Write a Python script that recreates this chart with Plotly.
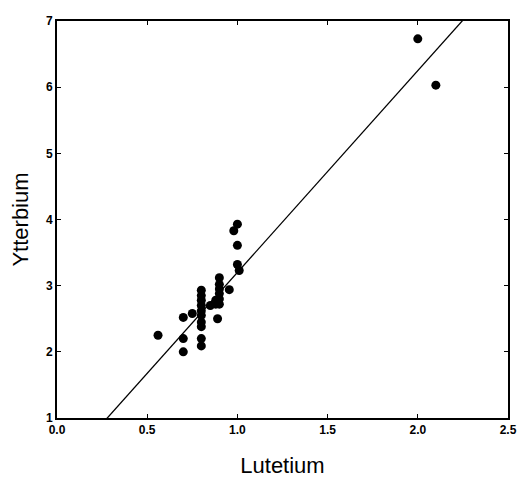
import plotly.graph_objects as go

lutetium = [0.56, 0.70, 0.70, 0.70, 0.75,
            0.80, 0.80, 0.80, 0.80, 0.80, 0.80, 0.80, 0.80, 0.80, 0.80,
            0.85, 0.88, 0.88,
            0.90, 0.90, 0.90, 0.90, 0.90, 0.90, 0.89,
            0.955, 0.98, 1.00, 1.00, 1.00, 1.01,
            2.00, 2.10]
ytterbium = [2.25, 2.52, 2.20, 2.00, 2.58,
             2.93, 2.85, 2.78, 2.70, 2.62, 2.55, 2.45, 2.38, 2.20, 2.09,
             2.70, 2.72, 2.78,
             3.12, 3.02, 2.95, 2.88, 2.80, 2.72, 2.50,
             2.94, 3.83, 3.93, 3.61, 3.32, 3.23,
             6.73, 6.03]

fit_slope = 3.05
fit_intercept = 0.15
fit_x = [0.0, 2.5]

x_ticks = [0.0, 0.5, 1.0, 1.5, 2.0, 2.5]
y_ticks = [1, 2, 3, 4, 5, 6, 7]

fig = go.Figure()
fit_y = [fit_intercept + fit_slope * v for v in fit_x]
fig.add_trace(go.Scatter(x=fit_x, y=fit_y, mode="lines",
                         line=dict(color="black", width=1.3), hoverinfo="skip"))
fig.add_trace(go.Scatter(x=lutetium, y=ytterbium, mode="markers",
                         marker=dict(color="black", size=9)))

axis_common = dict(showgrid=False, zeroline=False, showline=True, linecolor="black",
                   linewidth=2, mirror="ticks", ticks="inside", ticklen=4,
                   tickcolor="black", tickwidth=1, ticklabeloverflow="allow",
                   tickfont=dict(family="Liberation Sans, Arial", size=12, color="black", weight="bold"))

fig.update_layout(
    width=518, height=472,
    margin=dict(l=49, r=18, t=6, b=57),
    paper_bgcolor="white", plot_bgcolor="white",
    showlegend=False,
    font=dict(family="Liberation Sans, Arial", color="black"),
    xaxis=dict(range=[0, 2.5], tickvals=x_ticks, ticktext=[f"{v:.1f}" for v in x_ticks],
               title=dict(text="Lutetium", font=dict(size=22), standoff=21), **axis_common),
    yaxis=dict(range=[1, 7], tickvals=y_ticks, ticktext=[str(v) for v in y_ticks],
               title=dict(text="Ytterbium", font=dict(size=22), standoff=12), **axis_common),
)

fig.write_html("out.html")
